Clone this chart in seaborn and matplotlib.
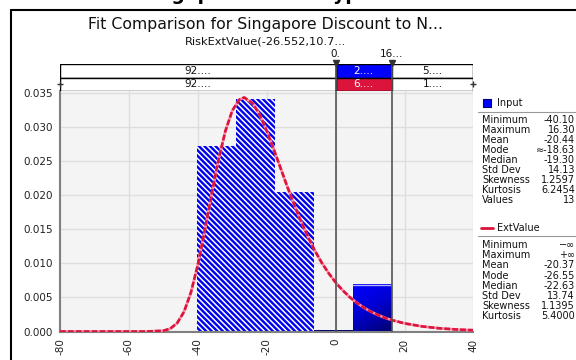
import matplotlib
matplotlib.use("Agg")
import numpy as np
import pandas as pd
import seaborn as sns
import matplotlib.pyplot as plt
from matplotlib.lines import Line2D
from matplotlib.patches import Rectangle
from matplotlib.colors import LinearSegmentedColormap

# ---------------- data ----------------
bin_edges = [-40.10, -28.82, -17.54, -6.26, 5.02, 16.30]
bar_heights = [0.0273, 0.0341, 0.0205, 0.0002, 0.0068]

curve_x = [-80, -70, -60, -55, -50, -48, -46, -44, -42, -40, -38, -36, -34, -32, -30,
           -28, -26.55, -24, -22, -20, -18, -16, -14, -12, -10, -8, -6, -4, -2, 0,
           2, 4, 6, 8, 10, 12, 14, 16, 20, 25, 30, 35, 40]
curve_y = [0.0, 0.0, 0.0, 0.000001, 0.00011, 0.00042, 0.00123, 0.0029, 0.00574, 0.0098,
           0.01478, 0.02014, 0.02522, 0.02943, 0.03242, 0.03402, 0.03435, 0.03346, 0.03175,
           0.02944, 0.02679, 0.0240, 0.02121, 0.01856, 0.01609, 0.01384, 0.01183, 0.01006,
           0.00853, 0.0072, 0.00606, 0.00508, 0.00426, 0.00356, 0.00298, 0.00248, 0.00207,
           0.00172, 0.00119, 0.000753, 0.000473, 0.000297, 0.000187]

delimiters = [0.0, 16.3]
delimiter_labels = ["0.", "16..."]
input_probs = ["92....", "2....", "5...."]
fit_probs = ["92....", "6....", "1...."]

x_ticks = [-80, -60, -40, -20, 0, 20, 40]
y_ticks = [0.000, 0.005, 0.010, 0.015, 0.020, 0.025, 0.030, 0.035]
y_tick_labels = ["0.000", "0.005", "0.010", "0.015", "0.020", "0.025", "0.030", "0.035"]

input_stat_names = ["Minimum", "Maximum", "Mean", "Mode", "Median", "Std Dev",
                    "Skewness", "Kurtosis", "Values"]
input_stat_values = ["-40.10", "16.30", "-20.44", "\u2248-18.63", "-19.30", "14.13",
                     "1.2597", "6.2454", "13"]
fit_stat_names = ["Minimum", "Maximum", "Mean", "Mode", "Median", "Std Dev",
                  "Skewness", "Kurtosis"]
fit_stat_values = ["\u2212\u221e", "+\u221e", "-20.37", "-26.55", "-22.63", "13.74",
                   "1.1395", "5.4000"]

title = "Fit Comparison for Singapore Discount to N..."
subtitle = "RiskExtValue(-26.552,10.7..."
big_title = "Singapore - Prototype"

# ---------------- style ----------------
sns.set_style("white")
plt.rcParams["font.family"] = ["DejaVu Sans"]
plt.rcParams["hatch.linewidth"] = 1.1

BLUE = "#0000ff"
NAVY = "#000070"
CRIMSON = "#dc143c"

W, H = 576, 360
def fx(px):
    return px / W
def fy(py):
    return 1 - py / H

fig = plt.figure(figsize=(5.76, 3.6), dpi=100)
fig.patch.set_facecolor("white")

L, R, T, B = 60, 473.5, 91, 331.5
ax = fig.add_axes([fx(L), fy(B), (R - L) / W, (B - T) / H])
ax.set_facecolor("#f4f4f4")

centers = [(bin_edges[i] + bin_edges[i + 1]) / 2 for i in range(len(bar_heights))]
df = pd.DataFrame({"x": centers, "w": bar_heights})
sns.histplot(data=df, x="x", weights="w", bins=bin_edges, stat="count", ax=ax,
             color=BLUE, alpha=1, linewidth=0)

for i, p in enumerate(ax.patches):
    if bin_edges[i + 1] <= delimiters[0]:
        p.set_facecolor("#0000f0")
        p.set_edgecolor("white")
        p.set_hatch("\\\\\\\\\\\\")
        p.set_linewidth(0)
    else:
        p.set_facecolor(NAVY)
        p.set_edgecolor(NAVY)
        p.set_linewidth(0)
        if bar_heights[i] > 0.001:
            cmap = LinearSegmentedColormap.from_list("g", [BLUE, "#0000d0", NAVY])
            gy = np.linspace(0, 1, 60)[:, None]
            gx = np.linspace(0, 1, 40)[None, :]
            grad = 0.75 * gy + 0.35 * gx
            ax.imshow(grad, extent=[bin_edges[i], bin_edges[i + 1], 0, bar_heights[i]],
                      origin="upper", cmap=cmap, aspect="auto", zorder=2, vmin=0, vmax=1.1)
            ax.plot([bin_edges[i], bin_edges[i + 1]], [bar_heights[i], bar_heights[i]],
                    color="#b0b0ff", linewidth=1.0, zorder=3)

sns.lineplot(x=curve_x, y=curve_y, ax=ax, color="#ff8fa8", linewidth=1.9, zorder=4)
sns.lineplot(x=curve_x, y=curve_y, ax=ax, color=CRIMSON, linewidth=1.9, zorder=4,
             linestyle=(0, (2.2, 0.8)))

for d in delimiters:
    ax.axvline(d, color="#555555", linewidth=1.2, zorder=5)

ax.set_xlim(-80, 40)
ax.set_ylim(0, 0.0353)
ax.set_xticks(x_ticks)
ax.set_xticklabels([str(v) for v in x_ticks], rotation=90)
ax.set_yticks(y_ticks)
ax.set_yticklabels(y_tick_labels)
ax.set_xlabel("")
ax.set_ylabel("")
ax.grid(True, color="#dedede", linewidth=1.0)
ax.set_axisbelow(True)
for s in ["top", "right"]:
    ax.spines[s].set_visible(False)
for s in ["left", "bottom"]:
    ax.spines[s].set_color("#808080")
    ax.spines[s].set_linewidth(1.5)
ax.tick_params(axis="both", direction="out", length=3, width=1, color="#808080",
               labelsize=7.5, labelcolor="#222222", pad=2)

# ---------------- delimiter rows ----------------
axt = fig.add_axes([fx(L), fy(T), (R - L) / W, (T - 64) / H])
axt.set_xlim(-80, 40)
axt.set_ylim(0, 2)
axt.axis("off")
seg_edges = [-80] + delimiters + [40]
rows = [(1, input_probs, BLUE), (0, fit_probs, CRIMSON)]
for y0, labels, mid_color in rows:
    for i in range(3):
        fc = mid_color if i == 1 else "white"
        tc = "white" if i == 1 else "#111111"
        axt.barh(y0 + 0.5, seg_edges[i + 1] - seg_edges[i], left=seg_edges[i], height=1,
                 color=fc, edgecolor="black", linewidth=1.0)
        axt.text((seg_edges[i] + seg_edges[i + 1]) / 2, y0 + 0.5, labels[i],
                 ha="center", va="center", fontsize=7.5, color=tc)
for d, lab in zip(delimiters, delimiter_labels):
    axt.axvline(d, color="#555555", linewidth=1.2)
    axt.plot([d], [2.05], marker="v", color="#333333", markersize=5, clip_on=False, zorder=6)
    axt.annotate(lab, xy=(d, 2), xytext=(0, 7.5), textcoords="offset points",
                 ha="center", va="center", fontsize=7.5, color="#111111",
                 annotation_clip=False)
axt.plot([-80, 40], [0.5, 0.5], ls="none", marker="+", color="#333333",
         markersize=5, clip_on=False)

# ---------------- titles ----------------
fig.text(fx(138), fy(0.2), big_title, ha="left", va="baseline", fontsize=13.5,
         fontweight="bold", color="black")
fig.text(fx(265), fy(24), title, ha="center", va="center", fontsize=11.3, color="#111111")
fig.text(fx(266), fy(41), subtitle, ha="center", va="center", fontsize=8.2, color="#111111")

# outer frame
fig.add_artist(Line2D([fx(11), fx(11)], [fy(10), 0], transform=fig.transFigure,
                      color="black", linewidth=1.5))
fig.add_artist(Line2D([fx(11), 1], [fy(10), fy(10)], transform=fig.transFigure,
                      color="black", linewidth=1.5))

# ---------------- legend panel ----------------
fig.add_artist(Rectangle((fx(483), fy(107)), 8 / W, 8 / H, transform=fig.transFigure,
                         facecolor=BLUE, edgecolor=NAVY, linewidth=0.8))
fig.text(fx(497), fy(103), "Input", ha="left", va="center", fontsize=7, color="#111111")
fig.add_artist(Line2D([fx(478), 1], [fy(112), fy(112)], transform=fig.transFigure,
                      color="#999999", linewidth=0.8))
for k, (n, v) in enumerate(zip(input_stat_names, input_stat_values)):
    yy = 120 + k * 10
    fig.text(fx(482), fy(yy), n, ha="left", va="center", fontsize=7, color="#111111")
    fig.text(fx(575), fy(yy), v, ha="right", va="center", fontsize=7, color="#111111")

fig.add_artist(Line2D([fx(481), fx(493)], [fy(228), fy(228)], transform=fig.transFigure,
                      color=CRIMSON, linewidth=2))
fig.text(fx(497), fy(228), "ExtValue", ha="left", va="center", fontsize=7, color="#111111")
fig.add_artist(Line2D([fx(478), 1], [fy(236), fy(236)], transform=fig.transFigure,
                      color="#999999", linewidth=0.8))
for k, (n, v) in enumerate(zip(fit_stat_names, fit_stat_values)):
    yy = 245 + k * 10.2
    fig.text(fx(482), fy(yy), n, ha="left", va="center", fontsize=7, color="#111111")
    fig.text(fx(575), fy(yy), v, ha="right", va="center", fontsize=7, color="#111111")

fig.savefig("out.png", dpi=100)
